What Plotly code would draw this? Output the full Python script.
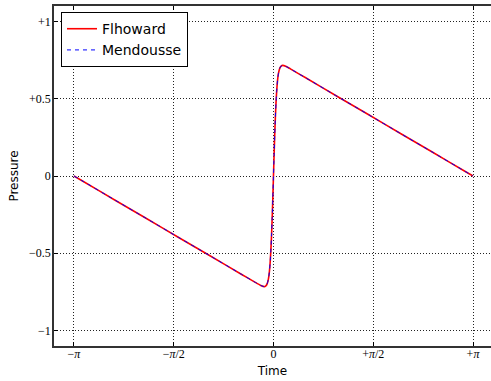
import numpy as np
import plotly.graph_objects as go

PI = np.pi

# Time samples
time = [-PI, -3.0, -2.5, -2.0, -1.5, -1.0, -0.5, -0.3, -0.2, -0.145, -0.12, -0.10,
        -0.08, -0.07, -0.06, -0.05, -0.04, -0.03, -0.02, -0.01, 0.0,
        0.01, 0.02, 0.03, 0.04, 0.05, 0.06, 0.07, 0.08, 0.10, 0.12, 0.145,
        0.2, 0.3, 0.5, 1.0, 1.5, 2.0, 2.5, 3.0, PI]

flhoward = [0.0, -0.034, -0.155, -0.275, -0.396, -0.516, -0.637, -0.685, -0.708, -0.716, -0.711, -0.698,
            -0.667, -0.640, -0.600, -0.546, -0.473, -0.381, -0.268, -0.139, 0.0,
            0.139, 0.268, 0.381, 0.473, 0.546, 0.600, 0.640, 0.667, 0.698, 0.711, 0.716,
            0.708, 0.685, 0.637, 0.516, 0.396, 0.275, 0.155, 0.034, 0.0]

mendousse = [0.0, -0.034, -0.155, -0.275, -0.396, -0.516, -0.637, -0.685, -0.708, -0.716, -0.711, -0.698,
             -0.667, -0.640, -0.600, -0.546, -0.473, -0.381, -0.268, -0.139, 0.0,
             0.139, 0.268, 0.381, 0.473, 0.546, 0.600, 0.640, 0.667, 0.698, 0.711, 0.716,
             0.708, 0.685, 0.637, 0.516, 0.396, 0.275, 0.155, 0.034, 0.0]

x_tickvals = [-PI, -PI / 2, 0, PI / 2, PI]
x_ticktext = ["−<i>π</i>", "−<i>π</i>/2", "0", "+<i>π</i>/2", "+<i>π</i>"]
y_tickvals = [-1, -0.5, 0, 0.5, 1]
y_ticktext = ["−1", "−0.5", "0", "+0.5", "+1"]

fig = go.Figure()
fig.add_trace(go.Scatter(x=time, y=flhoward, mode="lines", name="Flhoward",
                         line=dict(color="#ff0000", width=1.6, shape="spline", smoothing=0.6)))
fig.add_trace(go.Scatter(x=time, y=mendousse, mode="lines", name="Mendousse",
                         line=dict(color="#0000ff", width=1, dash="4px,4px", shape="spline", smoothing=0.6)))

tickfont = dict(family="Liberation Serif", size=12, color="black")
grid = dict(showgrid=True, gridcolor="#222", griddash="1px,2px", gridwidth=1)
fig.update_layout(
    width=491, height=381,
    margin=dict(l=54, r=0, t=6, b=35),
    paper_bgcolor="white", plot_bgcolor="white",
    font=dict(family="DejaVu Sans", size=12, color="black"),
    showlegend=True,
    legend=dict(x=0.016, y=0.982, xanchor="left", yanchor="top",
                bgcolor="white", bordercolor="black", borderwidth=1,
                font=dict(family="DejaVu Sans", size=14, color="black"),
                tracegroupgap=0),
    xaxis=dict(range=[-1.1 * PI, PI + 0.2835], tickvals=x_tickvals, ticktext=x_ticktext,
               tickfont=tickfont, ticks="inside", ticklen=4, tickcolor="black",
               ticklabelstandoff=-4,
               showline=True, linecolor="#333", linewidth=1.5, mirror="ticks",
               zeroline=False, title=dict(text="Time", standoff=6,
                                          font=dict(family="DejaVu Sans", size=12)),
               **grid),
    yaxis=dict(range=[-1.1, 1.1], tickvals=y_tickvals, ticktext=y_ticktext,
               tickfont=tickfont, ticks="inside", ticklen=4, tickcolor="black",
               ticklabelstandoff=-1,
               showline=True, linecolor="#333", linewidth=1.5, mirror=False,
               zeroline=False, title=dict(text="Pressure", standoff=8,
                                          font=dict(family="DejaVu Sans", size=12)),
               **grid),
)

fig.write_html("out.html")
